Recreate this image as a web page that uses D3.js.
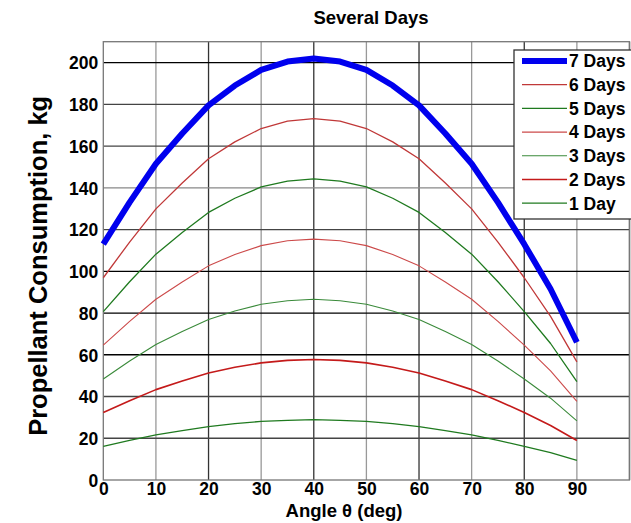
<!DOCTYPE html>
<html>
<head>
<meta charset="utf-8">
<script src="https://cdn.jsdelivr.net/npm/d3@7"></script>
<style>
html,body{margin:0;padding:0;background:#fff;}
svg{display:block;font-family:"Liberation Sans",Arial,Helvetica,sans-serif;font-weight:bold;}
</style>
</head>
<body>
<svg id="chart" width="631" height="523"></svg>
<script>
const angles = [0,5,10,15,20,25,30,35,40,45,50,55,60,65,70,75,80,85,90];
const days7 = [113,133,151.5,166,179.5,189,196.5,200.5,202,200.5,196.5,189,179.5,166,151.5,133,113,91.5,66];
const days6 = [96.9,114,129.9,142.3,153.9,162,168.4,171.9,173.1,171.9,168.4,162,153.9,142.3,129.9,114,96.9,78.4,56.6];
const days5 = [80.7,95,108.2,118.6,128.2,135,140.4,143.2,144.3,143.2,140.4,135,128.2,118.6,108.2,95,80.7,65.4,47.1];
const days4 = [64.6,76,86.6,94.9,102.6,108,112.3,114.6,115.4,114.6,112.3,108,102.6,94.9,86.6,76,64.6,52.3,37.7];
const days3 = [48.4,57,64.9,71.1,76.9,81,84.2,85.9,86.6,85.9,84.2,81,76.9,71.1,64.9,57,48.4,39.2,28.3];
const days2 = [32.3,38,43.3,47.4,51.3,54,56.1,57.3,57.7,57.3,56.1,54,51.3,47.4,43.3,38,32.3,26.1,18.9];
const days1 = [16.1,19,21.6,23.7,25.6,27,28.1,28.6,28.9,28.6,28.1,27,25.6,23.7,21.6,19,16.1,13.1,9.4];
const seriesNames = ["7 Days","6 Days","5 Days","4 Days","3 Days","2 Days","1 Day"];
const xTicks = [0,10,20,30,40,50,60,70,80,90];
const yTicks = [0,20,40,60,80,100,120,140,160,180,200];
const title = "Several Days";
const xLabel = "Angle \u03b8 (deg)";
const yLabel = "Propellant Consumption, kg";

const seriesValues = [days7,days6,days5,days4,days3,days2,days1];
const styles = [
  {color:"#0000ee", width:6},
  {color:"#c03838", width:1.3},
  {color:"#1f7a1f", width:1.3},
  {color:"#cc4a4a", width:1.1},
  {color:"#3a8a3a", width:1.1},
  {color:"#c41a1a", width:1.6},
  {color:"#1f7a1f", width:1.3}
];

const svg = d3.select("#chart");
const L = 103.3, R = 629.5, T = 41.7, B = 480;
const x = d3.scaleLinear().domain([0,100]).range([L,R]);
const y = d3.scaleLinear().domain([0,210]).range([B,T]);

// grid
const g = svg.append("g");
d3.range(10,101,10).forEach(v=>{
  g.append("line").attr("x1",x(v)).attr("x2",x(v)).attr("y1",T).attr("y2",B)
   .attr("stroke", (v/10)%2===0 ? "#333" : "#999").attr("stroke-width",1.3);
});
yTicks.filter(v=>v>0).forEach(v=>{
  const dark = [200,100,80,60].includes(v);
  g.append("line").attr("x1",L).attr("x2",R).attr("y1",y(v)).attr("y2",y(v))
   .attr("stroke", dark ? "#000" : (v===140 ? "#888" : "#444")).attr("stroke-width",1.3);
});
svg.append("rect").attr("x",L).attr("y",T).attr("width",R-L).attr("height",B-T)
  .attr("fill","none").attr("stroke","#777").attr("stroke-width",1.3);

// axes
const xAxis = d3.axisBottom(x).tickValues(xTicks).tickSize(0).tickPadding(3);
const yAxis = d3.axisLeft(y).tickValues(yTicks).tickSize(0).tickPadding(5);
const xa = svg.append("g").attr("transform",`translate(0,${B})`).call(xAxis);
const ya = svg.append("g").attr("transform",`translate(${L},0)`).call(yAxis);
[xa,ya].forEach(a=>{
  a.select(".domain").remove();
  a.selectAll("text").attr("font-family","Liberation Sans, Arial, sans-serif")
   .attr("font-weight","bold").attr("font-size",17.5).attr("fill","#000");
});
ya.selectAll("text").attr("dy","0.36em");

// lines
const line = d3.line().x((d,i)=>x(angles[i])).y(d=>y(d));
const order = [6,5,4,3,2,1,0];
order.forEach(k=>{
  svg.append("path").datum(seriesValues[k]).attr("d",line)
    .attr("fill","none").attr("stroke",styles[k].color)
    .attr("stroke-width",styles[k].width).attr("stroke-linejoin","round");
});

// legend
const lg = svg.append("g");
lg.append("rect").attr("x",514).attr("y",50).attr("width",120).attr("height",169)
  .attr("fill","#fff").attr("stroke","#333").attr("stroke-width",1.3);
seriesNames.forEach((name,i)=>{
  const yy = 61 + i*23.7;
  lg.append("line").attr("x1",522).attr("x2",567).attr("y1",yy).attr("y2",yy)
    .attr("stroke",styles[i].color).attr("stroke-width",styles[i].width);
  lg.append("text").attr("x",569).attr("y",yy).attr("dy","0.36em")
    .attr("font-size",17.5).attr("fill","#000").text(name);
});

// titles
svg.append("text").attr("x",371).attr("y",24).attr("text-anchor","middle")
  .attr("font-size",18.5).text(title);
svg.append("text").attr("x",344).attr("y",517).attr("text-anchor","middle")
  .attr("font-size",18.5).text(xLabel);
svg.append("text").attr("transform",`translate(47,${(T+B)/2+5}) rotate(-90)`)
  .attr("text-anchor","middle").attr("font-size",25.5).text(yLabel);
</script>
</body>
</html>
